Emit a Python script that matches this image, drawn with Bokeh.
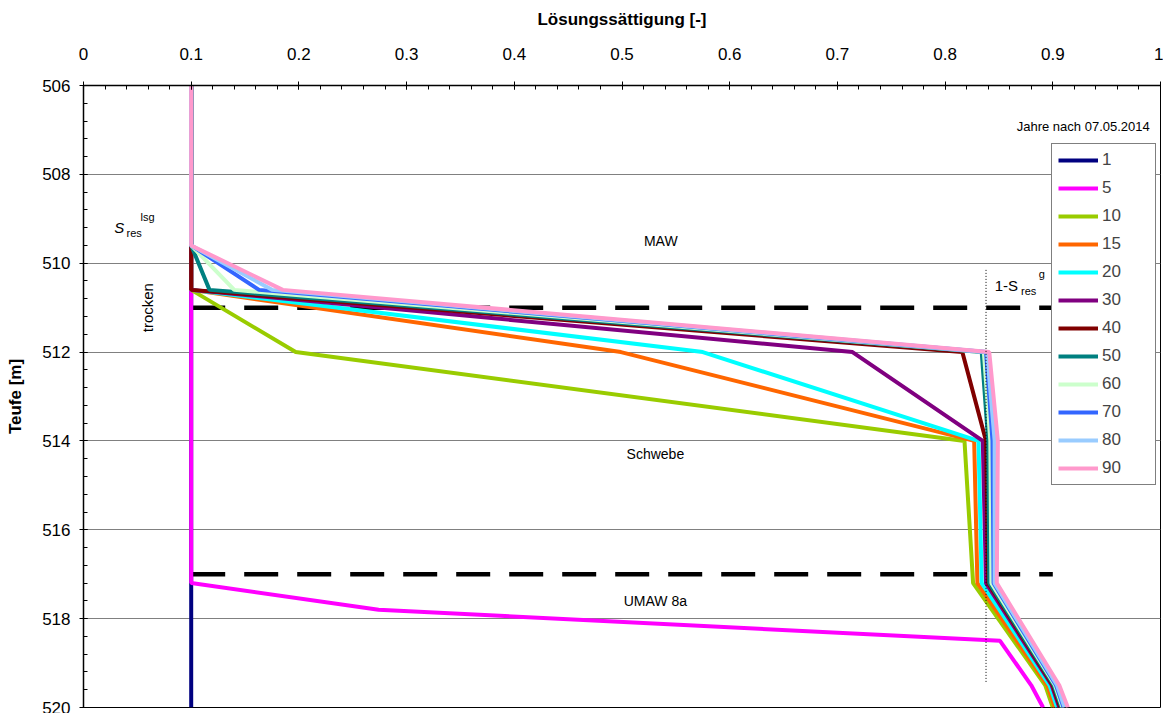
from bokeh.plotting import figure
from bokeh.models import Range1d, FixedTicker, Legend, LegendItem, Label
from bokeh.embed import file_html
from bokeh.resources import INLINE

# ---------------- data ----------------
depth = [506, 509.6, 510.6, 512, 514, 517.2, 519.5, 520]
depth_5 = [506, 517.2, 517.8, 518.5, 519.5, 520]

sat_1 = [0.1, 0.1, 0.1, 0.1, 0.1, 0.1, 0.1, 0.1]
sat_5 = [0.1, 0.1, 0.274, 0.851, 0.880, 0.891]
sat_10 = [0.1, 0.1, 0.1, 0.197, 0.818, 0.826, 0.893, 0.900]
sat_15 = [0.1, 0.1, 0.1, 0.499, 0.827, 0.830, 0.895, 0.902]
sat_20 = [0.1, 0.1, 0.1, 0.575, 0.831, 0.834, 0.897, 0.904]
sat_30 = [0.1, 0.1, 0.1, 0.714, 0.835, 0.838, 0.899, 0.906]
sat_40 = [0.1, 0.1, 0.1, 0.816, 0.838, 0.840, 0.900, 0.907]
sat_50 = [0.1, 0.1, 0.117, 0.834, 0.840, 0.841, 0.901, 0.908]
sat_60 = [0.1, 0.1, 0.140, 0.836, 0.842, 0.843, 0.902, 0.909]
sat_70 = [0.1, 0.1, 0.163, 0.838, 0.844, 0.845, 0.903, 0.910]
sat_80 = [0.1, 0.1, 0.175, 0.839, 0.846, 0.846, 0.904, 0.911]
sat_90 = [0.1, 0.1, 0.185, 0.841, 0.849, 0.848, 0.906, 0.914]

series_names = ["1", "5", "10", "15", "20", "30", "40", "50", "60", "70", "80", "90"]
series_colors = ["#000080", "#FF00FF", "#99CC00", "#FF6600", "#00FFFF", "#800080",
                 "#800000", "#008080", "#CCFFCC", "#3366FF", "#99CCFF", "#FF99CC"]

# layer boundaries (dashed) and 1-S_res^g (dotted)
boundary_depths = [511, 517]
boundary_x = [0.1, 0.9]
sresg_x = [0.838, 0.838]
sresg_depth = [510.15, 519.45]

x_ticks = [0, 0.1, 0.2, 0.3, 0.4, 0.5, 0.6, 0.7, 0.8, 0.9, 1]
x_tick_labels = ["0", "0.1", "0.2", "0.3", "0.4", "0.5", "0.6", "0.7", "0.8", "0.9", "1"]
y_ticks = [506, 508, 510, 512, 514, 516, 518, 520]

FONT = "Liberation Sans"

# ---------------- figure ----------------
p = figure(width=1163, height=713, output_backend="svg", toolbar_location=None,
           x_range=Range1d(0, 1), y_range=Range1d(520, 506),
           x_axis_location="above",
           min_border_left=83, min_border_right=3, min_border_top=85, min_border_bottom=6)
p.background_fill_color = "white"
p.border_fill_color = "white"
p.outline_line_color = "black"
p.outline_line_width = 1

# axes
xa = p.xaxis[0]
xa.ticker = FixedTicker(ticks=x_ticks, minor_ticks=[i * 0.02 for i in range(51)])
xa.major_label_overrides = dict(zip(x_ticks, x_tick_labels))
xa.axis_label = "Lösungssättigung [-]"
ya = p.yaxis[0]
ya.ticker = FixedTicker(ticks=y_ticks, minor_ticks=[506 + 0.4 * i for i in range(36)])
ya.axis_label = "Teufe [m]"
for ax in (xa, ya):
    ax.axis_line_color = "black"
    ax.axis_line_width = 1.5
    ax.major_tick_line_color = "black"
    ax.minor_tick_line_color = "black"
    ax.major_tick_in = 4
    ax.major_tick_out = 4
    ax.minor_tick_in = 4
    ax.minor_tick_out = 0
    ax.major_label_text_font = FONT
    ax.major_label_text_font_size = "17px"
    ax.major_label_text_color = "black"
    ax.axis_label_text_font = FONT
    ax.axis_label_text_font_size = "17px"
    ax.axis_label_text_font_style = "bold"
    ax.axis_label_text_color = "black"
xa.major_label_standoff = 22
xa.axis_label_standoff = 16
ya.major_label_standoff = 9
ya.axis_label_standoff = 14

p.xgrid.grid_line_color = None
p.ygrid.grid_line_color = "#808080"
p.ygrid.grid_line_width = 1

# dashed boundaries
for d in boundary_depths:
    p.line(boundary_x, [d, d], line_color="black", line_width=4.5, line_dash="34 19")

# series
all_x = [sat_1, sat_5, sat_10, sat_15, sat_20, sat_30, sat_40, sat_50, sat_60, sat_70, sat_80, sat_90]
items = []
for name, col, xs in zip(series_names, series_colors, all_x):
    ys = depth_5 if name == "5" else depth
    r = p.line(xs, ys, line_color=col, line_width=4)
    items.append(LegendItem(label=name, renderers=[r]))

# dotted 1-S_res^g line
p.line(sresg_x, sresg_depth, line_color="black", line_width=1, line_dash="1 2")

legend = Legend(items=items, location=(968, 222), orientation="vertical",
                glyph_width=40, glyph_height=20, label_height=20, label_width=47,
                spacing=8, padding=6, margin=0, label_standoff=4,
                label_text_font=FONT, label_text_font_size="17px",
                border_line_color="black", border_line_width=1,
                background_fill_color="white", background_fill_alpha=1)
p.add_layout(legend)

def lab(x, y, text, size="14px", align="center", baseline="middle", style="normal", angle=0):
    p.add_layout(Label(x=x, y=y, text=text, text_font=FONT, text_font_size=size,
                       text_align=align, text_baseline=baseline, text_font_style=style,
                       angle=angle, text_color="black"))

lab(0.536, 509.5, "MAW")
lab(0.531, 514.3, "Schwebe")
lab(0.531, 517.6, "UMAW 8a")
lab(0.99, 506.93, "Jahre nach 07.05.2014", size="13px", align="right")
lab(0.0594, 511.0, "trocken", size="15px", angle=1.5707963)
# S_res^lsg
lab(0.0285, 509.2, "S", size="15px", align="left", style="italic")
lab(0.040, 509.33, "res", size="11px", align="left")
lab(0.053, 508.95, "lsg", size="11px", align="left")
# 1-S_res^g
lab(0.846, 510.5, "1-S", size="15px", align="left")
lab(0.8705, 510.63, "res", size="11px", align="left")
lab(0.887, 510.25, "g", size="11px", align="left")

open("out.html", "w").write(file_html(p, INLINE))
